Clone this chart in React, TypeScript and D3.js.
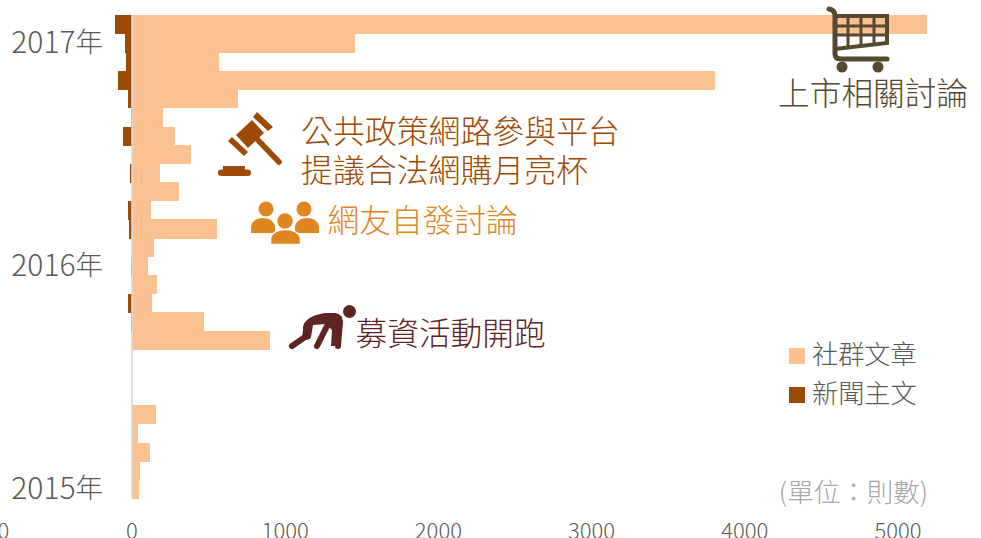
import React from "react";
import * as d3 from "d3";

const W = 981, H = 538;
const months = [
  "2017-02","2017-01","2016-12","2016-11","2016-10","2016-09","2016-08","2016-07","2016-06","2016-05","2016-04","2016-03","2016-02",
  "2016-01","2015-12","2015-11","2015-10","2015-09","2015-08","2015-07","2015-06","2015-05","2015-04","2015-03","2015-02","2015-01",
];
const socialPosts = [5190,1455,568,3805,692,202,280,385,183,305,124,553,144,106,163,130,470,899,0,0,0,157,41,117,52,48];
const newsPosts = [111,46,41,93,28,6,59,1,13,1,24,18,1,5,1,24,5,2,0,0,0,0,0,0,0,0];
const yearTicks = ["2017-01","2016-01","2015-01"];
const yearLabels = ["2017","2016","2015"];
const xTicks = [-1000,0,1000,2000,3000,4000,5000];
const seriesNames = ["社群文章","新聞主文"];

const SOCIAL = "#FBC191", NEWS = "#9C4A05", GRAY = "#595959";
const FONT = '"Noto Sans CJK TC", sans-serif';

function Gavel({ c }: { c: string }) {
  return <g fill={c} stroke="none">
    <polygon points="253,117 257,112 273,127 268,131" />
    <polygon points="228,141 232,137 248,152 244,156" />
    <polygon points="252,120 236,135 248,148 264,133" />
    <path d="M256,138 L279,162" stroke={c} strokeWidth={5.5} strokeLinecap="round" fill="none" />
    <rect x={218} y={169.5} width={33} height={6.5} rx={3.2} />
    <rect x={223} y={166} width={22} height={5} />
  </g>;
}
function People({ c }: { c: string }) {
  const body = (x: number, y: number, w: number, h: number) =>
    `M${x},${y + h} L${x},${y + h * 0.55} Q${x + w * 0.1},${y} ${x + w / 2},${y} Q${x + w * 0.9},${y} ${x + w},${y + h * 0.55} L${x + w},${y + h} Z`;
  return <g fill={c}>
    <circle cx={266} cy={209} r={7.5} />
    <circle cx={304} cy={209} r={7.5} />
    <path d={body(251, 218, 24, 15)} />
    <path d={body(295, 218, 24, 15)} />
    <circle cx={285} cy={221} r={8.5} stroke="#fff" strokeWidth={1.5} />
    <path d={body(270.5, 229.5, 30, 15)} stroke="#fff" strokeWidth={1.5} />
  </g>;
}
function Runner({ c }: { c: string }) {
  return <g>
    <circle cx={349.5} cy={311.5} r={6.5} fill={c} />
    <path d="M303,327 Q305,316 325,313 L335,313 Q343,314 343,322 L341,346 L331,346 L332,330 L326,324 L313,325 L311,337 Q309,342 303,338 Z" fill={c} />
    <path d="M307,325 L305,337 L292,346" fill="none" stroke={c} strokeWidth={6} strokeLinecap="round" strokeLinejoin="round" />
    <path d="M327,326 L317,346" fill="none" stroke={c} strokeWidth={6} strokeLinecap="round" />
    <path d="M338,320 L338,346" fill="none" stroke={c} strokeWidth={6} strokeLinecap="round" />
  </g>;
}
function Cart({ c }: { c: string }) {
  return <g fill="none" stroke={c} strokeWidth={4}>
    <path d="M829,9 Q835,10 835,16 L835,54 Q835,59 841,59 L887,59" strokeWidth={5} strokeLinecap="round" />
    <path d="M835,16 L887,16 L887,43 L835,49" />
    <path d="M848,16 L848,47 M861,16 L861,46 M874,16 L874,44 M835,26 L887,26 M835,35 L887,35" strokeWidth={3} />
    <circle cx={842} cy={67} r={5.5} fill={c} stroke="none" />
    <circle cx={878} cy={67} r={5.5} fill={c} stroke="none" />
  </g>;
}

export default function App() {
  const x = d3.scaleLinear().domain([0, 5000]).range([132, 898]);
  const y = d3.scaleBand<string>().domain(months).range([15, 498.3]).padding(0);
  const rowH = y.bandwidth();
  return (
    <svg width={W} height={H} viewBox={`0 0 ${W} ${H}`} style={{ position: "absolute", left: 0, top: 0, background: "#fff" }} fontFamily={FONT}>
      <g shapeRendering="crispEdges">
        {months.map((m, i) => socialPosts[i] > 0 && (
          <rect key={m} x={x(0)} y={y(m)} width={x(socialPosts[i]) - x(0)} height={rowH + 0.5} fill={SOCIAL} />
        ))}
        {months.map((m, i) => newsPosts[i] > 0 && (
          <rect key={m} x={x(-newsPosts[i])} y={y(m)} width={x(0) - x(-newsPosts[i])} height={rowH + 0.5} fill={NEWS} />
        ))}
      </g>
      <line x1={x(0)} x2={x(0)} y1={15} y2={498} stroke="#D9D9D9" strokeWidth={1.6} />
      {yearTicks.map((t, i) => (
        <text key={t} x={103} y={y(t)! + rowH / 2 - 3} textAnchor="end" dominantBaseline="central" fontSize={30} fontWeight={300} fill={GRAY}>{yearLabels[i]}<tspan fontSize={27.5}>年</tspan></text>
      ))}
      {xTicks.map(t => (
        <text key={t} x={x(t) + (t < 0 ? 7 : 0)} y={529} textAnchor="middle" dominantBaseline="central" fontSize={22} fontWeight={300} fill={GRAY}>{Math.abs(t)}</text>
      ))}
      <Cart c="#55492F" />
      <text x={778} y={91} dominantBaseline="central" fontSize={31.7} fontWeight={300} fill="#55492F">上市相關討論</text>
      <Gavel c={NEWS} />
      <text x={301} y={129} dominantBaseline="central" fontSize={31.9} fontWeight={300} fill={NEWS}>公共政策網路參與平台</text>
      <text x={301} y={168} dominantBaseline="central" fontSize={31.9} fontWeight={300} fill={NEWS}>提議合法網購月亮杯</text>
      <People c="#E0861F" />
      <text x={327.5} y={218} dominantBaseline="central" fontSize={31.7} fontWeight={300} fill="#E0861F">網友自發討論</text>
      <Runner c="#5F2323" />
      <text x={355.5} y={331} dominantBaseline="central" fontSize={31.7} fontWeight={300} fill="#5F2323">募資活動開跑</text>
      <rect x={789} y={348} width={16} height={16} fill={SOCIAL} shapeRendering="crispEdges" />
      <text x={812} y={353} dominantBaseline="central" fontSize={26.2} fontWeight={300} fill={GRAY}>{seriesNames[0]}</text>
      <rect x={789} y={387} width={16} height={16} fill={NEWS} shapeRendering="crispEdges" />
      <text x={812} y={392} dominantBaseline="central" fontSize={26.2} fontWeight={300} fill={GRAY}>{seriesNames[1]}</text>
      <text x={928} y={490} textAnchor="end" dominantBaseline="central" fontSize={26.5} fontWeight={300} fill="#A6A6A6">(單位：則數)</text>
    </svg>
  );
}
